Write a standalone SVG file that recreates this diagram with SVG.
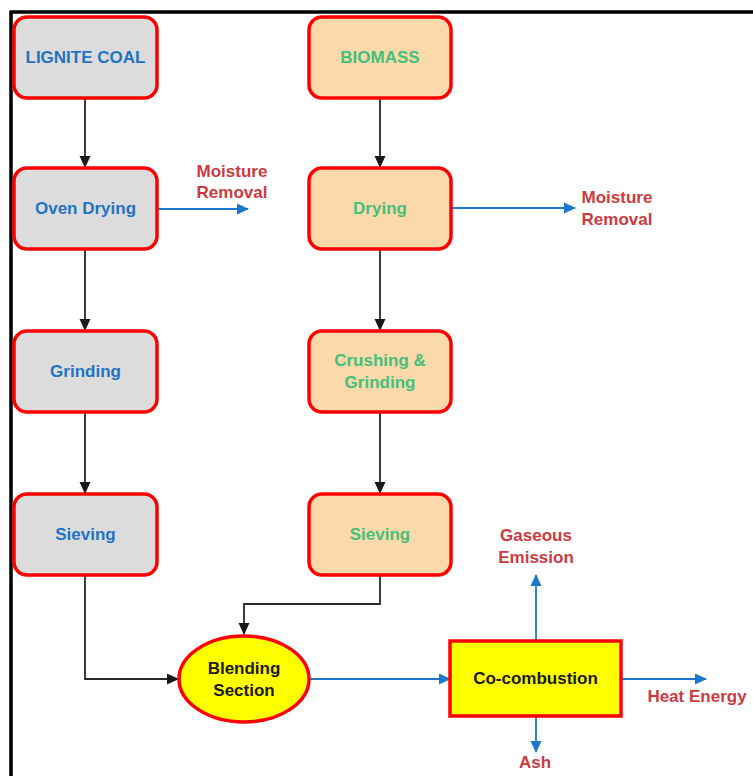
<svg xmlns="http://www.w3.org/2000/svg" width="753" height="776" viewBox="0 0 753 776">
<defs>
<style>
text{font-family:"Liberation Sans",Arial,sans-serif;font-weight:bold;font-size:17px;text-anchor:middle;}
.box{stroke:#ff0000;stroke-width:3.5;}
.lig{fill:#dcdcdc;}
.bio{fill:#fcd9aa;}
.tl{fill:#1f73c4;}
.tb{fill:#45bf7c;}
.tr{fill:#cc3a40;}
.tk{fill:#1a1a1a;}
.ck{fill:none;stroke:#2a2a2a;stroke-width:1.8;}
.cb{fill:none;stroke:#1a78cc;stroke-width:1.8;}
</style>
<marker id="ak" markerWidth="12" markerHeight="12" refX="11" refY="6" orient="auto" markerUnits="userSpaceOnUse"><path d="M0,0.5 L12,6 L0,11.5 Z" fill="#1a1a1a"/></marker>
<marker id="ab" markerWidth="12" markerHeight="12" refX="11" refY="6" orient="auto" markerUnits="userSpaceOnUse"><path d="M0,0.5 L12,6 L0,11.5 Z" fill="#1a78cc"/></marker>
</defs>
<rect width="753" height="776" fill="#ffffff"/>
<path d="M11,776 L11,12 L753,12" fill="none" stroke="#000" stroke-width="3.5"/>
<g id="connectors">
<path class="ck" d="M85,98 L85,167" marker-end="url(#ak)"/>
<path class="ck" d="M85,249 L85,330" marker-end="url(#ak)"/>
<path class="ck" d="M85,412 L85,493" marker-end="url(#ak)"/>
<path class="ck" d="M380,98 L380,167" marker-end="url(#ak)"/>
<path class="ck" d="M380,249 L380,330" marker-end="url(#ak)"/>
<path class="ck" d="M380,412 L380,493" marker-end="url(#ak)"/>
<path class="ck" d="M85,575 L85,679 L178,679" marker-end="url(#ak)"/>
<path class="ck" d="M380,575 L380,604 L244,604 L244,634" marker-end="url(#ak)"/>
<path class="cb" d="M157,209 L248,209" marker-end="url(#ab)"/>
<path class="cb" d="M451,208 L575,208" marker-end="url(#ab)"/>
<path class="cb" d="M309,679 L450,679" marker-end="url(#ab)"/>
<path class="cb" d="M536,640 L536,575" marker-end="url(#ab)"/>
<path class="cb" d="M621,679 L706,679" marker-end="url(#ab)"/>
<path class="cb" d="M536,716 L536,752" marker-end="url(#ab)"/>
</g>
<g id="lignite"><rect class="box lig" x="14" y="17" width="143" height="81" rx="13"/><text class="tl" x="85.5" y="63">LIGNITE COAL</text></g>
<g id="oven-drying"><rect class="box lig" x="14" y="168" width="143" height="81" rx="13"/><text class="tl" x="85.5" y="214">Oven Drying</text></g>
<g id="grinding"><rect class="box lig" x="14" y="331" width="143" height="81" rx="13"/><text class="tl" x="85.5" y="377">Grinding</text></g>
<g id="sieving-l"><rect class="box lig" x="14" y="494" width="143" height="81" rx="13"/><text class="tl" x="85.5" y="540">Sieving</text></g>
<g id="biomass"><rect class="box bio" x="309" y="17" width="142" height="81" rx="13"/><text class="tb" x="380" y="63">BIOMASS</text></g>
<g id="drying"><rect class="box bio" x="309" y="168" width="142" height="81" rx="13"/><text class="tb" x="380" y="214">Drying</text></g>
<g id="crushing"><rect class="box bio" x="309" y="331" width="142" height="81" rx="13"/><text class="tb" x="380" y="366">Crushing &amp;</text><text class="tb" x="380" y="388">Grinding</text></g>
<g id="sieving-b"><rect class="box bio" x="309" y="494" width="142" height="81" rx="13"/><text class="tb" x="380" y="540">Sieving</text></g>
<g id="blending"><ellipse class="box" cx="244" cy="679" rx="65" ry="43" fill="#ffff00"/><text class="tk" x="244" y="674">Blending</text><text class="tk" x="244" y="696">Section</text></g>
<g id="cocombustion"><rect class="box" x="450" y="641" width="171" height="75" fill="#ffff00"/><text class="tk" x="535.5" y="684">Co-combustion</text></g>
<g id="labels">
<text class="tr" x="232" y="177">Moisture</text><text class="tr" x="232" y="198">Removal</text>
<text class="tr" x="617" y="203">Moisture</text><text class="tr" x="617" y="225">Removal</text>
<text class="tr" x="536" y="541">Gaseous</text><text class="tr" x="536" y="563">Emission</text>
<text class="tr" x="697" y="702">Heat Energy</text>
<text class="tr" x="535" y="768">Ash</text>
</g>
</svg>
